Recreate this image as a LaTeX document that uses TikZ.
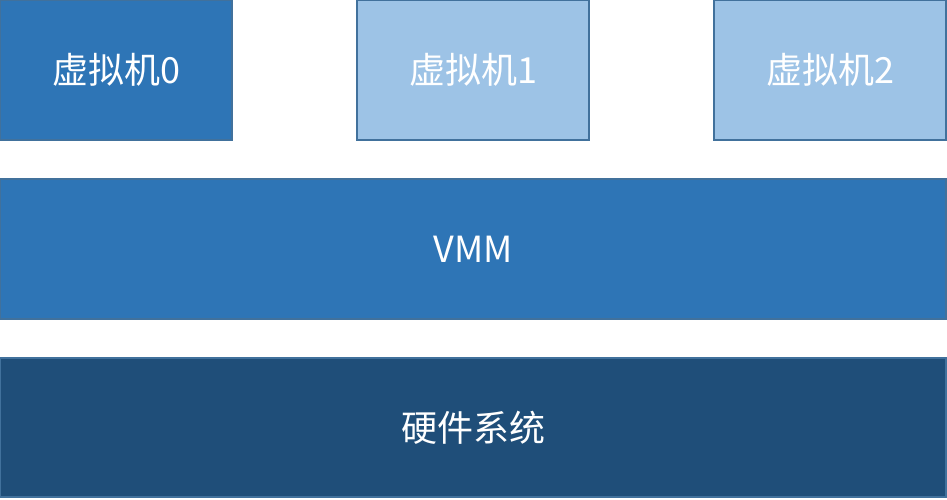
\documentclass[tikz,border=0pt]{standalone}
\usepackage{fontspec}
\setmainfont{Noto Sans CJK SC}
\definecolor{vmblue}{HTML}{2E75B6}
\definecolor{vmlight}{HTML}{9DC3E6}
\definecolor{hwblue}{HTML}{1F4E79}
\definecolor{edgeblue}{HTML}{41719C}

\begin{document}
\begin{tikzpicture}[x=1pt,y=-1pt,line width=1.5pt]
  \tikzstyle{every node}=[draw=edgeblue,text=white,inner sep=0pt,
    font=\fontsize{36}{40}\selectfont]
  \tikzstyle{vmbox}=[minimum width=232pt,minimum height=140pt]
  \tikzstyle{layer}=[minimum width=946pt,minimum height=140pt]

  \useasboundingbox (0,0) rectangle (947,499);

  \node[vmbox,fill=vmblue]  (vm0) at (116,70)  {虚拟机0};
  \node[vmbox,fill=vmlight] (vm1) at (473,70)  {虚拟机1};
  \node[vmbox,fill=vmlight] (vm2) at (830,70)  {虚拟机2};
  \node[layer,fill=vmblue]  (vmm) at (473,249) {VMM};
  \node[layer,fill=hwblue,minimum height=139pt] (hw) at (473,427.5) {硬件系统};
\end{tikzpicture}
\end{document}
